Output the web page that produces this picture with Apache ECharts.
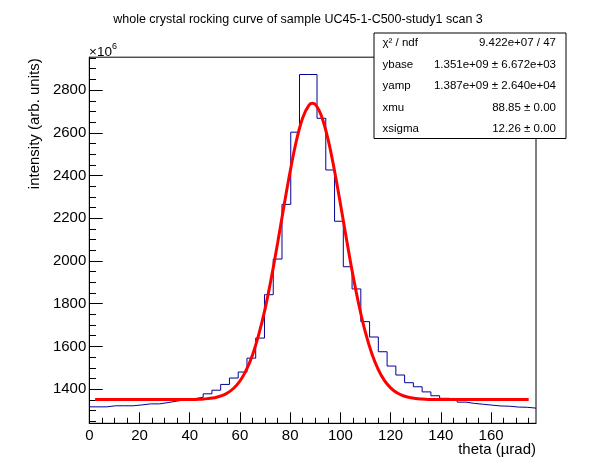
<!DOCTYPE html>
<html lang="en">
<head>
    <meta charset="UTF-8">
    <script src="https://cdn.jsdelivr.net/npm/echarts@6/dist/echarts.min.js"></script>
    <title>rocking curve</title>
    <style>
        html,
        body {
            height: 100%;
            width: 100%;
            padding: 0;
            margin: 0;
            background: #fff;
            overflow: hidden;
        }
        .my-chart {
            width: 596px;
            height: 472px;
        }
    </style>
</head>
<body>
<div class="my-chart"></div>
<script>
    // histogram: 51 bins between X_MIN and X_MAX, values in units of 1e6
    var X_MIN = 0;
    var X_MAX = 177.9;
    var HIST = [1317, 1317, 1322, 1322, 1322, 1326, 1331, 1331, 1337, 1344,
                1350, 1355, 1362, 1378, 1395, 1422, 1452, 1480, 1545, 1639,
                1842, 2009, 2265, 2603, 2873, 2873, 2668, 2426, 2186, 1973,
                1869, 1716, 1644, 1575, 1508, 1466, 1430, 1411, 1387, 1369,
                1357, 1353, 1339, 1333, 1329, 1325, 1321, 1320, 1316, 1315,
                1311];

    // red fit curve
    var FIT_X = [2.3, 30, 35, 40, 42.5, 45, 47.5, 50, 52.5, 55, 57.5, 60, 62.5, 65, 67.5, 70, 72.5, 75, 77.5,
                 80, 82.5, 85, 87.5, 89, 90.5, 92.5, 95, 97.5, 100, 102.5, 105, 107.5, 110,
                 112.5, 115, 117.5, 120, 122.5, 125, 127.5, 130, 132.5, 135, 137.5, 140, 145, 175];
    var FIT_Y = [1351, 1351, 1351, 1351.5, 1352, 1353, 1356, 1360, 1368, 1382, 1404, 1438, 1489, 1560, 1656, 1776, 1921, 2084, 2255,
                 2420, 2564, 2671, 2730, 2738, 2725.5, 2678, 2574, 2432, 2268, 2097, 1933, 1787, 1664,
                 1567, 1494, 1441, 1406, 1383, 1369, 1361, 1356, 1353.5, 1352, 1351.5, 1351, 1351, 1351];

    var Y_MIN = 1240;
    var Y_MAX = 2954;
    var X_TICKS = [0, 20, 40, 60, 80, 100, 120, 140, 160];
    var X_MINOR = [5, 10, 15, 25, 30, 35, 45, 50, 55, 65, 70, 75, 85, 90, 95, 105, 110, 115,
                   125, 130, 135, 145, 150, 155, 165, 170, 175];
    var Y_TICKS = [1400, 1600, 1800, 2000, 2200, 2400, 2600, 2800];
    var Y_MINOR = [1250, 1300, 1350, 1450, 1500, 1550, 1650, 1700, 1750, 1850, 1900, 1950,
                   2050, 2100, 2150, 2250, 2300, 2350, 2450, 2500, 2550, 2650, 2700, 2750,
                   2850, 2900, 2950];

    var STAT_NAMES = ['\u03c7\u00b2 / ndf', 'ybase', 'yamp', 'xmu', 'xsigma'];
    var STAT_VALUES = ['9.422e+07 / 47', '1.351e+09 \u00b1 6.672e+03', '1.387e+09 \u00b1 2.640e+04',
                       '88.85 \u00b1 0.00', '12.26 \u00b1 0.00'];

    var FONT = '"Liberation Sans", Arial, Helvetica, sans-serif';

    // step outline built from bin edges
    var binW = (X_MAX - X_MIN) / HIST.length;
    var histData = [];
    for (var i = 0; i < HIST.length; i++) {
        histData.push([X_MIN + i * binW, HIST[i]]);
    }
    histData.push([X_MAX, HIST[HIST.length - 1]]);

    var fitData = [];
    for (var j = 0; j < FIT_X.length; j++) {
        fitData.push([FIT_X[j], FIT_Y[j]]);
    }

    var plain = function (v) { return String(v); };

    var myChart = echarts.init(document.querySelector('.my-chart'));

    // stats box
    var statEls = [{
        type: 'rect',
        shape: {x: 374, y: 33, width: 192, height: 105.5},
        style: {fill: '#fff', stroke: '#000', lineWidth: 1},
        z: 100
    }];
    var rowY = [43.3, 64.5, 86, 107.7, 129.3];
    for (var k = 0; k < STAT_NAMES.length; k++) {
        statEls.push({
            type: 'text', x: 382.5, y: rowY[k], z: 101,
            style: {text: STAT_NAMES[k], font: '11.5px ' + FONT, fill: '#000',
                    textAlign: 'left', textVerticalAlign: 'middle'}
        });
        statEls.push({
            type: 'text', x: 556, y: rowY[k], z: 101,
            style: {text: STAT_VALUES[k], font: '11.5px ' + FONT, fill: '#000',
                    textAlign: 'right', textVerticalAlign: 'middle'}
        });
    }

    var option = {
        animation: false,
        backgroundColor: '#fff',
        title: {
            text: 'whole crystal rocking curve of sample UC45-1-C500-study1 scan 3',
            left: 'center',
            top: 8,
            textStyle: {fontSize: 12.5, fontWeight: 'normal', color: '#000', fontFamily: FONT}
        },
        grid: {
            left: 89.3, right: 60, top: 57.2, bottom: 48.7,
            show: true, borderColor: '#000', borderWidth: 1,
            containLabel: false, outerBoundsMode: 'none'
        },
        xAxis: [{
            type: 'value', min: X_MIN, max: X_MAX, position: 'bottom',
            axisLine: {show: true, lineStyle: {color: '#000', width: 1}},
            axisTick: {show: true, inside: true, length: 11, customValues: X_TICKS,
                       lineStyle: {color: '#000'}},
            axisLabel: {customValues: X_TICKS, formatter: plain, margin: 5, color: '#000',
                        fontSize: 15, fontFamily: FONT},
            splitLine: {show: false}
        }, {
            type: 'value', min: X_MIN, max: X_MAX, position: 'bottom',
            axisLine: {show: false},
            axisTick: {show: true, inside: true, length: 5.5, customValues: X_MINOR,
                       lineStyle: {color: '#000'}},
            axisLabel: {show: false},
            splitLine: {show: false}
        }],
        yAxis: [{
            type: 'value', min: Y_MIN, max: Y_MAX, position: 'left',
            axisLine: {show: true, lineStyle: {color: '#000', width: 1}},
            axisTick: {show: true, inside: true, length: 13.4, customValues: Y_TICKS,
                       lineStyle: {color: '#000'}},
            axisLabel: {customValues: Y_TICKS, formatter: plain, margin: 3, color: '#000',
                        fontSize: 15, fontFamily: FONT},
            splitLine: {show: false}
        }, {
            type: 'value', min: Y_MIN, max: Y_MAX, position: 'left',
            axisLine: {show: false},
            axisTick: {show: true, inside: true, length: 6.7, customValues: Y_MINOR,
                       lineStyle: {color: '#000'}},
            axisLabel: {show: false},
            splitLine: {show: false}
        }],
        graphic: [{
            type: 'text', x: 35, y: 58.3, rotation: Math.PI / 2,
            style: {text: 'intensity (arb. units)', font: '15px ' + FONT, fill: '#000',
                    textAlign: 'right', textVerticalAlign: 'middle'}
        }, {
            type: 'text', x: 536, y: 450,
            style: {text: 'theta (\u00b5rad)', font: '15px ' + FONT, fill: '#000',
                    textAlign: 'right', textVerticalAlign: 'middle'}
        }, {
            type: 'text', x: 89, y: 51,
            style: {text: '{a|\u00d710}{b|6}', fill: '#000', textAlign: 'left', textVerticalAlign: 'middle',
                    rich: {a: {fontSize: 13.5, fontFamily: FONT, verticalAlign: 'bottom'},
                           b: {fontSize: 9, fontFamily: FONT, verticalAlign: 'top', padding: [0, 0, 8, 0]}}}
        }].concat(statEls),
        series: [{
            type: 'line', xAxisIndex: 0, yAxisIndex: 0,
            data: histData, step: 'end', showSymbol: false,
            lineStyle: {color: '#000099', width: 1}, z: 2
        }, {
            type: 'line', xAxisIndex: 0, yAxisIndex: 0,
            data: fitData, smooth: 0.4, showSymbol: false,
            lineStyle: {color: '#ff0000', width: 3}, z: 3
        }]
    };
    myChart.setOption(option);
</script>
</body>
</html>
